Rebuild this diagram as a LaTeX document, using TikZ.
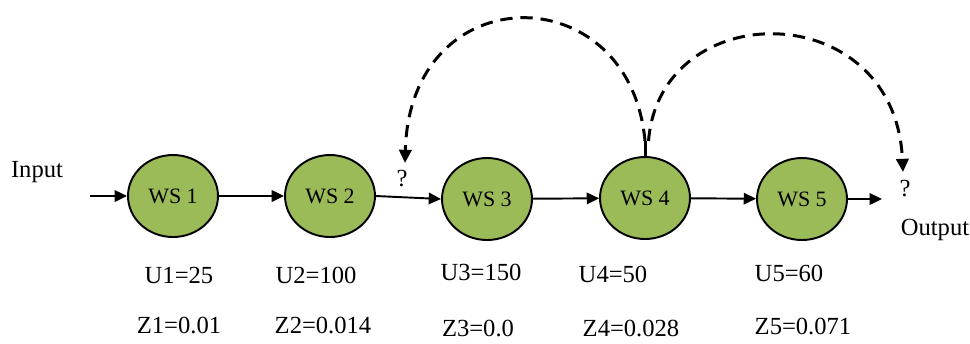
\documentclass[tikz,border=0pt]{standalone}
\usepackage{fontspec}
\setmainfont{Liberation Serif}
\usetikzlibrary{arrows.meta}
\usetikzlibrary{shapes.geometric}
\definecolor{wsgreen}{HTML}{9BBB59}
\tikzset{
  station/.style={ellipse, draw, line width=1.1pt, fill=wsgreen, minimum width=1.8cm, minimum height=1.64cm, inner sep=0pt, font=\fontsize{12.5}{14}\selectfont},
  flow/.style={line width=1.1pt, -{Triangle[length=7pt,width=6.5pt]}},
  jump/.style={line width=1.7pt, dash pattern=on 7pt off 4.5pt, -{Triangle[length=7.5pt,width=7pt]}},
  txt/.style={font=\fontsize{14}{16}\selectfont, inner sep=1pt}
}
\begin{document}
\begin{tikzpicture}[x=0.02cm, y=-0.02cm]
    \useasboundingbox (0,0) rectangle (970,343);
    % Draw the work stations
    \node[station] (ws1) at (173,196) {WS 1};
    \node[station] (ws2) at (330,196) {WS 2};
    \node[station] (ws3) at (487,199) {WS 3};
    \node[station] (ws4) at (645,198) {WS 4};
    \node[station] (ws5) at (802,199) {WS 5};

    % Input and output
    \node[txt] (in) at (37,172) {Input};
    \coordinate (start) at (90,196);
    \node[txt] (q1) at (402,179) {?};
    \node[txt] (q2) at (905,189) {?};
    \coordinate (end) at (882,199);
    \node[txt] (out) at (935,230) {Output};

    % Arrows along the line
    \draw[flow] (start) -- (ws1);
    \draw[flow] (ws1) -- (ws2);
    \draw[flow] (ws2.east) -- (ws3.west);
    \draw[flow] (ws3) -- (ws4);
    \draw[flow] (ws4) -- (ws5);
    \draw[flow] (ws5) -- (end);

    % Dashed arcs from WS 4
    \coordinate (top) at (645,141);
    \coordinate (t1) at (405,163);
    \coordinate (t2) at (903,172);
    \draw[line width=1.7pt] (ws4.north) -- (top);
    \draw[jump] (top) .. controls (630,-25) and (410,-25) .. (t1);
    \draw[jump] ([xshift=2]top) .. controls (660,-5) and (895,-5) .. (t2);

    % Labels for U
    \node[txt] (u1) at (179,275) {U1=25};
    \node[txt] (u2) at (316,275) {U2=100};
    \node[txt] (u3) at (481,272) {U3=150};
    \node[txt] (u4) at (613,274) {U4=50};
    \node[txt] (u5) at (789,273) {U5=60};

    % Labels for Z
    \node[txt] (z1) at (179,325) {Z1=0.01};
    \node[txt] (z2) at (323,325) {Z2=0.014};
    \node[txt] (z3) at (478,328) {Z3=0.0};
    \node[txt] (z4) at (631,328) {Z4=0.028};
    \node[txt] (z5) at (803,326) {Z5=0.071};
\end{tikzpicture}
\end{document}
